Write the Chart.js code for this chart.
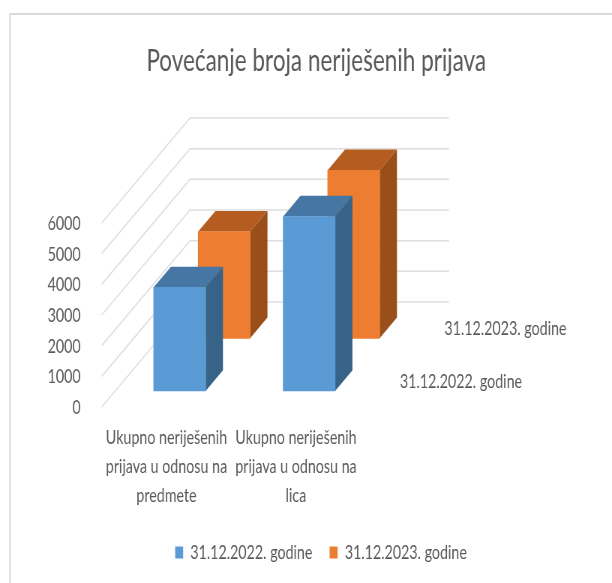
<!DOCTYPE html>
<html><head><meta charset="utf-8">
<style>html,body{margin:0;padding:0;background:#fff;overflow:hidden}
#w{position:absolute;left:0;top:0;width:816px;height:583px;transform:scaleX(0.75);transform-origin:0 0}</style>
<script src="https://cdn.jsdelivr.net/npm/chart.js@4"></script>
</head><body><div id="w"><canvas id="c" width="816" height="583"></canvas></div>
<script>
const titleText = 'Povećanje broja neriješenih prijava';
const categories = [
  ['Ukupno neriješenih','prijava u odnosu na','predmete'],
  ['Ukupno neriješenih','prijava u odnosu na','lica']
];
const seriesNames = ['31.12.2022. godine','31.12.2023. godine'];
const values2022 = [3380, 5690];
const values2023 = [3480, 5480];
const yTicks = [0,1000,2000,3000,4000,5000,6000];
const seriesColors = ['#5B9BD5','#ED7D31'];
const topColors = ['#4676A3','#B55D20'];
const sideColors = ['#376388','#9A4F1B'];
const FONT = 'Lato,"Open Sans",sans-serif';
const TEXT = '#595959';
const K = 0.75; // horizontal squeeze of the whole picture
const X = v => v / K;
const rowShift = [{x:X(13.2),y:-16},{x:X(57.7),y:-68.7}];
const barDepth = {x:X(17.3),y:-20.7};
const wallDepth = {x:X(88.3),y:-105};

const plugin3d = {
  id:'plugin3d',
  afterLayout(chart){
    chart.titleBlock.left += X(20.5);
    chart.legend.left += X(15);
    chart.legend.right += X(15);
    const y=chart.scales.y, c=chart.ctx, orig=y.drawLabels;
    y.drawLabels=function(area){ c.save(); c.translate(0,1); orig.call(this,area); c.restore(); };
  },
  beforeDraw(chart){
    const c=chart.ctx; c.save();
    c.strokeStyle='#D9D9D9'; c.lineWidth=2;
    c.beginPath(); c.moveTo(X(10),583); c.lineTo(X(10),14); c.lineTo(X(612),14); c.stroke();
    c.restore();
  },
  beforeDatasetsDraw(chart){
    const c=chart.ctx, a=chart.chartArea, y=chart.scales.y;
    c.save(); c.strokeStyle='#DEDEDE'; c.lineWidth=1.5;
    yTicks.forEach(v=>{
      const p=y.getPixelForValue(v);
      c.beginPath();
      c.moveTo(a.left,p);
      c.lineTo(a.left+wallDepth.x,p+wallDepth.y);
      c.lineTo(a.right+wallDepth.x,p+wallDepth.y);
      c.stroke();
    });
    c.restore();
  },
  beforeDatasetDraw(chart,args){
    const c=chart.ctx,i=args.index,s=rowShift[i];
    c.save(); c.translate(s.x,s.y);
    chart.getDatasetMeta(i).data.forEach(b=>{
      const l=b.x-b.width/2,r=b.x+b.width/2,t=b.y,base=b.base,d=barDepth;
      c.fillStyle=topColors[i];
      c.beginPath();c.moveTo(l,t);c.lineTo(l+d.x,t+d.y);c.lineTo(r+d.x,t+d.y);c.lineTo(r,t);c.closePath();c.fill();
      c.fillStyle=sideColors[i];
      c.beginPath();c.moveTo(r,t);c.lineTo(r+d.x,t+d.y);c.lineTo(r+d.x,base+d.y);c.lineTo(r,base);c.closePath();c.fill();
    });
  },
  afterDatasetDraw(chart){ chart.ctx.restore(); },
  afterDraw(chart){
    const c=chart.ctx,a=chart.chartArea,y=chart.scales.y;
    c.save(); c.fillStyle=TEXT; c.font='19px '+FONT; c.textAlign='left'; c.textBaseline='middle';
    seriesNames.forEach((n,i)=>{
      c.fillText(n,a.right+rowShift[i].x+X(26),y.getPixelForValue(0)+rowShift[i].y-9);
    });
    c.restore();
  }
};

new Chart(document.getElementById('c'),{
  type:'bar',
  data:{labels:categories,datasets:[
    {label:seriesNames[0],data:values2022,backgroundColor:seriesColors[0],grouped:false,barThickness:X(52),clip:false},
    {label:seriesNames[1],data:values2023,backgroundColor:seriesColors[1],grouped:false,barThickness:X(52),clip:false}
  ]},
  options:{
    responsive:false,animation:false,
    layout:{padding:{bottom:11}},
    plugins:{
      tooltip:{enabled:false},
      title:{display:true,text:titleText,color:TEXT,font:{family:FONT,size:30,weight:'normal'},padding:{top:43,bottom:144}},
      legend:{position:'bottom',labels:{color:TEXT,font:{family:FONT,size:19},boxWidth:X(8),boxHeight:12,padding:23}}
    },
    scales:{
      x:{grid:{display:false},border:{display:false},
         ticks:{color:TEXT,font:{family:FONT,size:19,lineHeight:1.54},maxRotation:0,minRotation:0,autoSkip:false,padding:8},
         afterFit(s){s.height=113;}},
      y:{min:0,max:6000,grid:{display:false},border:{display:false},
         ticks:{color:TEXT,font:{family:FONT,size:19},stepSize:1000,padding:X(15),callback:v=>String(v)},
         afterFit(s){s.width=X(101.7);}},
      yRight:{position:'right',grid:{display:false},border:{display:false},ticks:{display:false},
         afterFit(s){s.width=X(251.3);}}
    }
  },
  plugins:[plugin3d]
});
</script></body></html>
